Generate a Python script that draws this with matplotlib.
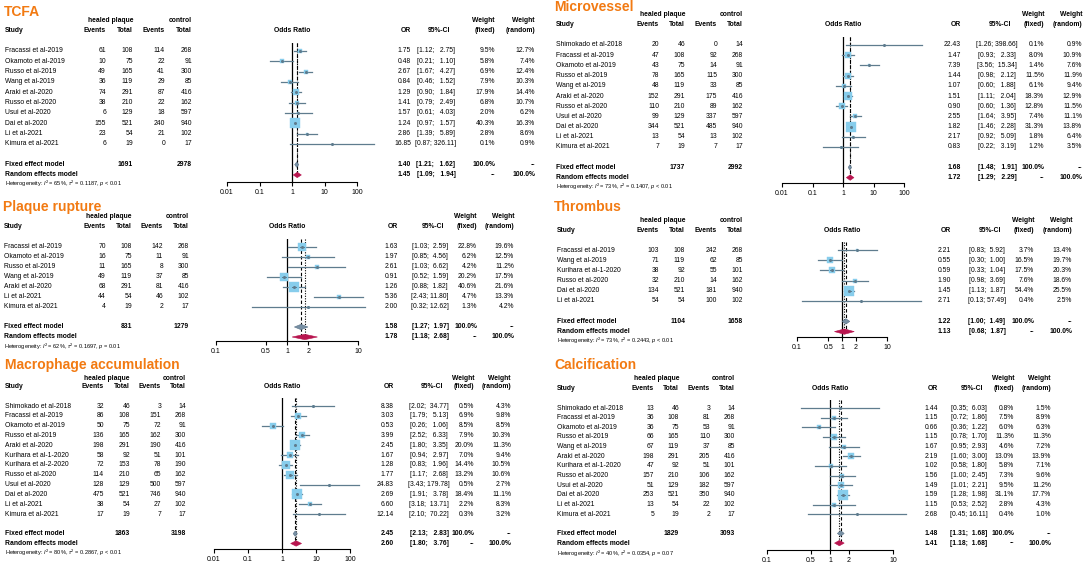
import numpy as np
import matplotlib.pyplot as plt

plt.rcParams['font.family'] = ['Liberation Sans', 'DejaVu Sans']
plt.rcParams['mathtext.fontset'] = 'custom'
plt.rcParams['mathtext.rm'] = 'Liberation Sans'
plt.rcParams['mathtext.it'] = 'Liberation Sans:italic'
plt.rcParams['mathtext.bf'] = 'Liberation Sans:bold'

# ---------------- TCFA
tcfa_study = ['Fracassi et al-2019', 'Okamoto et al-2019', 'Russo et al-2019', 'Wang et al-2019',
              'Araki et al-2020', 'Russo et al-2020', 'Usui et al-2020', 'Dai et al-2020',
              'Li et al-2021', 'Kimura et al-2021']
tcfa_hp_ev = [61, 10, 49, 36, 74, 38, 6, 155, 23, 6]
tcfa_hp_n = [108, 75, 165, 119, 291, 210, 129, 521, 54, 19]
tcfa_c_ev = [114, 22, 41, 29, 87, 22, 18, 240, 21, 0]
tcfa_c_n = [268, 91, 300, 85, 416, 162, 597, 940, 102, 17]
tcfa_or = [1.75, 0.48, 2.67, 0.84, 1.29, 1.41, 1.57, 1.24, 2.86, 16.85]
tcfa_lo = [1.12, 0.21, 1.67, 0.46, 0.90, 0.79, 0.61, 0.97, 1.39, 0.87]
tcfa_hi = [2.75, 1.10, 4.27, 1.52, 1.84, 2.49, 4.03, 1.57, 5.89, 326.11]
tcfa_wf = [9.5, 5.8, 6.9, 7.9, 17.9, 6.8, 2.0, 40.3, 2.8, 0.1]
tcfa_wr = [12.7, 7.4, 12.4, 10.3, 14.4, 10.7, 6.2, 16.3, 8.6, 0.9]
tcfa_fixed = [1.40, 1.21, 1.62]
tcfa_random = [1.45, 1.09, 1.94]
tcfa_totals = [1691, 2978]
tcfa_het = r'Heterogeneity: $I^2$ = 65%, $\tau^2$ = 0.1187, $p$ < 0.01'
tcfa_ticks = [0.01, 0.1, 1, 10, 100]

# ---------------- Plaque rupture
pr_study = ['Fracassi et al-2019', 'Okamoto et al-2019', 'Russo et al-2019', 'Wang et al-2019',
            'Araki et al-2020', 'Li et al-2021', 'Kimura et al-2021']
pr_hp_ev = [70, 16, 11, 49, 68, 44, 4]
pr_hp_n = [108, 75, 165, 119, 291, 54, 19]
pr_c_ev = [142, 11, 8, 37, 81, 46, 2]
pr_c_n = [268, 91, 300, 85, 416, 102, 17]
pr_or = [1.63, 1.97, 2.61, 0.91, 1.26, 5.36, 2.00]
pr_lo = [1.03, 0.85, 1.03, 0.52, 0.88, 2.43, 0.32]
pr_hi = [2.59, 4.56, 6.62, 1.59, 1.82, 11.80, 12.62]
pr_wf = [22.8, 6.2, 4.2, 20.2, 40.6, 4.7, 1.3]
pr_wr = [19.6, 12.5, 11.2, 17.5, 21.6, 13.3, 4.2]
pr_fixed = [1.58, 1.27, 1.97]
pr_random = [1.78, 1.18, 2.68]
pr_totals = [831, 1279]
pr_het = r'Heterogeneity: $I^2$ = 62%, $\tau^2$ = 0.1697, $p$ = 0.01'
pr_ticks = [0.1, 0.5, 1, 2, 10]

# ---------------- Macrophage accumulation
ma_study = ['Shimokado et al-2018', 'Fracassi et al-2019', 'Okamoto et al-2019', 'Russo et al-2019',
            'Araki et al-2020', 'Kurihara et al-1-2020', 'Kurihara et al-2-2020', 'Russo et al-2020',
            'Usui et al-2020', 'Dai et al-2020', 'Li et al-2021', 'Kimura et al-2021']
ma_hp_ev = [32, 86, 50, 136, 198, 58, 72, 114, 128, 475, 38, 17]
ma_hp_n = [46, 108, 75, 165, 291, 92, 153, 210, 129, 521, 54, 19]
ma_c_ev = [3, 151, 72, 162, 190, 51, 78, 65, 500, 746, 27, 7]
ma_c_n = [14, 268, 91, 300, 416, 101, 190, 162, 597, 940, 102, 17]
ma_or = [8.38, 3.03, 0.53, 3.99, 2.45, 1.67, 1.28, 1.77, 24.83, 2.69, 6.60, 12.14]
ma_lo = [2.02, 1.79, 0.26, 2.52, 1.80, 0.94, 0.83, 1.17, 3.43, 1.91, 3.18, 2.10]
ma_hi = [34.77, 5.13, 1.06, 6.33, 3.35, 2.97, 1.96, 2.68, 179.78, 3.78, 13.71, 70.22]
ma_wf = [0.5, 6.9, 8.5, 7.9, 20.0, 7.0, 14.4, 13.2, 0.5, 18.4, 2.2, 0.3]
ma_wr = [4.3, 9.8, 8.5, 10.3, 11.3, 9.4, 10.5, 10.6, 2.7, 11.1, 8.3, 3.2]
ma_fixed = [2.45, 2.13, 2.83]
ma_random = [2.60, 1.80, 3.76]
ma_totals = [1863, 3198]
ma_het = r'Heterogeneity: $I^2$ = 80%, $\tau^2$ = 0.2867, $p$ < 0.01'
ma_ticks = [0.01, 0.1, 1, 10, 100]

# ---------------- Microvessel
mv_study = ['Shimokado et al-2018', 'Fracassi et al-2019', 'Okamoto et al-2019', 'Russo et al-2019',
            'Wang et al-2019', 'Araki et al-2020', 'Russo et al-2020', 'Usui et al-2020',
            'Dai et al-2020', 'Li et al-2021', 'Kimura et al-2021']
mv_hp_ev = [20, 47, 43, 78, 48, 152, 110, 99, 344, 13, 7]
mv_hp_n = [46, 108, 75, 165, 119, 291, 210, 129, 521, 54, 19]
mv_c_ev = [0, 92, 14, 115, 33, 175, 89, 337, 485, 13, 7]
mv_c_n = [14, 268, 91, 300, 85, 416, 162, 597, 940, 102, 17]
mv_or = [22.43, 1.47, 7.39, 1.44, 1.07, 1.51, 0.90, 2.55, 1.82, 2.17, 0.83]
mv_lo = [1.26, 0.93, 3.56, 0.98, 0.60, 1.11, 0.60, 1.64, 1.46, 0.92, 0.22]
mv_hi = [398.66, 2.33, 15.34, 2.12, 1.88, 2.04, 1.36, 3.95, 2.28, 5.09, 3.19]
mv_wf = [0.1, 8.0, 1.4, 11.5, 6.1, 18.3, 12.8, 7.4, 31.3, 1.8, 1.2]
mv_wr = [0.9, 10.9, 7.6, 11.9, 9.4, 12.9, 11.5, 11.1, 13.8, 6.4, 3.5]
mv_fixed = [1.68, 1.48, 1.91]
mv_random = [1.72, 1.29, 2.29]
mv_totals = [1737, 2992]
mv_het = r'Heterogeneity: $I^2$ = 73%, $\tau^2$ = 0.1407, $p$ < 0.01'
mv_ticks = [0.01, 0.1, 1, 10, 100]

# ---------------- Thrombus
th_study = ['Fracassi et al-2019', 'Wang et al-2019', 'Kurihara et al-1-2020', 'Russo et al-2020',
            'Dai et al-2020', 'Li et al-2021']
th_hp_ev = [103, 71, 38, 32, 134, 54]
th_hp_n = [108, 119, 92, 210, 521, 54]
th_c_ev = [242, 62, 55, 14, 181, 100]
th_c_n = [268, 85, 101, 162, 940, 102]
th_or = [2.21, 0.55, 0.59, 1.90, 1.45, 2.71]
th_lo = [0.83, 0.30, 0.33, 0.98, 1.13, 0.13]
th_hi = [5.92, 1.00, 1.04, 3.69, 1.87, 57.49]
th_wf = [3.7, 16.5, 17.5, 7.6, 54.4, 0.4]
th_wr = [13.4, 19.7, 20.3, 18.6, 25.5, 2.5]
th_fixed = [1.22, 1.00, 1.49]
th_random = [1.13, 0.68, 1.87]
th_totals = [1104, 1658]
th_het = r'Heterogeneity: $I^2$ = 73%, $\tau^2$ = 0.2443, $p$ < 0.01'
th_ticks = [0.1, 0.5, 1, 2, 10]

# ---------------- Calcification
ca_study = ['Shimokado et al-2018', 'Fracassi et al-2019', 'Okamoto et al-2019', 'Russo et al-2019',
            'Wang et al-2019', 'Araki et al-2020', 'Kurihara et al-1-2020', 'Russo et al-2020',
            'Usui et al-2020', 'Dai et al-2020', 'Li et al-2021', 'Kimura et al-2021']
ca_hp_ev = [13, 36, 36, 66, 67, 198, 47, 157, 51, 253, 13, 5]
ca_hp_n = [46, 108, 75, 165, 119, 291, 92, 210, 129, 521, 54, 19]
ca_c_ev = [3, 81, 53, 110, 37, 205, 51, 106, 182, 350, 22, 2]
ca_c_n = [14, 268, 91, 300, 85, 416, 101, 162, 597, 940, 102, 17]
ca_or = [1.44, 1.15, 0.66, 1.15, 1.67, 2.19, 1.02, 1.56, 1.49, 1.59, 1.15, 2.68]
ca_lo = [0.35, 0.72, 0.36, 0.78, 0.95, 1.60, 0.58, 1.00, 1.01, 1.28, 0.53, 0.45]
ca_hi = [6.03, 1.86, 1.22, 1.70, 2.93, 3.00, 1.80, 2.45, 2.21, 1.98, 2.52, 16.11]
ca_wf = [0.8, 7.5, 6.0, 11.3, 4.6, 13.0, 5.8, 7.3, 9.5, 31.1, 2.8, 0.4]
ca_wr = [1.5, 8.9, 6.3, 11.3, 7.2, 13.9, 7.1, 9.6, 11.2, 17.7, 4.3, 1.0]
ca_fixed = [1.48, 1.31, 1.68]
ca_random = [1.41, 1.18, 1.68]
ca_totals = [1829, 3093]
ca_het = r'Heterogeneity: $I^2$ = 40%, $\tau^2$ = 0.0354, $p$ = 0.07'
ca_ticks = [0.1, 0.5, 1, 2, 10]

# colours
ORANGE = '#f27a12'
SQUARE = '#87cdec'
CI_COL = '#5f7c8e'
FIX_COL = '#7890a4'
RAND_COL = '#b8154f'

W, H = 1084, 563
fig = plt.figure(figsize=(W / 100, H / 100), dpi=100)
base = fig.add_axes([0, 0, 1, 1])
base.set_xlim(0, W)
base.set_ylim(H, 0)
base.axis('off')

FS = 4.9


def txt(x, y, s, ha='right', bold=False, size=FS, color='black'):
    base.text(x, y, s, ha=ha, va='center', fontsize=size,
              fontweight='bold' if bold else 'normal', color=color)


def fmt_ci(lo, hi):
    ls = ['%.2f' % v for v in lo]
    hs = ['%.2f' % v for v in hi]
    wl = max(len(s) for s in ls)
    wh = max(len(s) for s in hs)
    return ['[' + a.rjust(wl) + '; ' + b.rjust(wh) + ']' for a, b in zip(ls, hs)]


def panel(title, study, e1, n1, e2, n2, orv, lo, hi, wf, wr, fixed, random, totals, het, ticks, L):
    n = len(study)
    rows = [L['r0'] + i * L['dy'] for i in range(n)]
    y_fix = L['r0'] + (n + 1) * L['dy']
    y_ran = y_fix + L['dy']
    c1, c2, c3, c4 = L['cols']
    o_r, ci_r, wf_r, wr_r = L['right']
    ci_c = ci_r - 14

    txt(L['tx'], L['ty'], title, ha='left', bold=True, size=10, color=ORANGE)
    txt(c2, L['hy'], 'healed plaque', bold=True)
    txt(c4, L['hy'], 'control', bold=True)
    txt(L['x0'], L['sy'], 'Study', ha='left', bold=True)
    for c, s in zip(L['cols'], ['Events', 'Total', 'Events', 'Total']):
        txt(c, L['sy'], s, bold=True)
    txt((L['fx'][0] + L['fx'][1]) / 2, L['sy'], 'Odds Ratio', ha='center', bold=True)
    txt(o_r, L['sy'], 'OR', bold=True)
    txt(ci_r, L['sy'], '95%-CI', bold=True)
    txt(wf_r, L['hy'], 'Weight', bold=True)
    txt(wf_r, L['sy'], '(fixed)', bold=True)
    txt(wr_r, L['hy'], 'Weight', bold=True)
    txt(wr_r, L['sy'], '(random)', bold=True)

    cis = fmt_ci(lo + [fixed[1], random[1]], hi + [fixed[2], random[2]])
    for i, y in enumerate(rows):
        txt(L['x0'], y, study[i], ha='left')
        for c, v in zip(L['cols'], [e1[i], n1[i], e2[i], n2[i]]):
            txt(c, y, str(v))
        txt(o_r, y, '%.2f' % orv[i])
        txt(ci_c, y, cis[i], ha='center')
        txt(wf_r, y, '%.1f%%' % wf[i])
        txt(wr_r, y, '%.1f%%' % wr[i])

    txt(L['x0'], y_fix, 'Fixed effect model', ha='left', bold=True)
    txt(c2, y_fix, str(totals[0]), bold=True)
    txt(c4, y_fix, str(totals[1]), bold=True)
    txt(o_r, y_fix, '%.2f' % fixed[0], bold=True)
    txt(ci_c, y_fix, cis[n], ha='center', bold=True)
    txt(wf_r, y_fix, '100.0%', bold=True)
    txt(wr_r, y_fix, '--', bold=True)
    txt(L['x0'], y_ran, 'Random effects model', ha='left', bold=True)
    txt(o_r, y_ran, '%.2f' % random[0], bold=True)
    txt(ci_c, y_ran, cis[n + 1], ha='center', bold=True)
    txt(wf_r, y_ran, '--', bold=True)
    txt(wr_r, y_ran, '100.0%', bold=True)
    txt(L['x0'], L['hety'], het, ha='left', size=4.1)

    # forest part
    top = L['r0'] - 8
    bot = L['ay']
    x0, x1 = L['fx']
    ax = fig.add_axes([x0 / W, 1 - bot / H, (x1 - x0) / W, (bot - top) / H])
    ax.set_xscale('log')
    ax.set_xlim(ticks[0], ticks[-1])
    ax.set_ylim(bot, top)
    ax.patch.set_alpha(0)
    for s in ['top', 'left', 'right']:
        ax.spines[s].set_visible(False)
    ax.spines['bottom'].set_linewidth(0.8)
    ax.set_yticks([])
    ax.set_xticks(ticks)
    ax.set_xticklabels(['%g' % t for t in ticks])
    ax.minorticks_off()
    ax.tick_params(axis='x', length=3, width=0.8, labelsize=5, pad=2)

    ax.axvline(1, color='black', lw=0.9, zorder=1)
    ax.plot([fixed[0]] * 2, [top, y_ran], color='black', lw=0.8, ls=(0, (3, 2)), zorder=1)
    ax.plot([random[0]] * 2, [top, y_ran], color='black', lw=0.8, ls=(0, (1, 1.3)), zorder=1)

    wmax = max(wf)
    for i, y in enumerate(rows):
        ms = max(10 * np.sqrt(wf[i] / wmax) * 0.72, 0.8)
        ax.plot([lo[i], hi[i]], [y, y], color=CI_COL, lw=0.9, clip_on=False, zorder=2)
        ax.plot(orv[i], y, marker='s', ms=ms, mfc=SQUARE, mec=SQUARE, mew=0.3, zorder=3)
        ax.plot([max(lo[i], orv[i] * 0.93), min(hi[i], orv[i] / 0.93)], [y, y],
                color=CI_COL, lw=0.7, zorder=4)
        ax.plot(orv[i], y, marker='o', ms=1.2, color=CI_COL, zorder=4)

    h = 2.7
    ax.fill([fixed[1], fixed[0], fixed[2], fixed[0]], [y_fix, y_fix - h, y_fix, y_fix + h],
            facecolor=FIX_COL, edgecolor='#5a7388', lw=0.4, zorder=3)
    ax.fill([random[1], random[0], random[2], random[0]], [y_ran, y_ran - h, y_ran, y_ran + h],
            facecolor=RAND_COL, edgecolor=RAND_COL, lw=0.4, zorder=3)


L_tcfa = dict(x0=5, tx=4, ty=12, hy=21, sy=31, r0=51, dy=10.33, hety=184, cols=(106, 133, 165, 192),
              fx=(227, 357), ay=182, right=(411, 450, 495, 535))
L_pr = dict(x0=4, tx=3, ty=207, hy=217, sy=227, r0=247, dy=10.0, hety=347, cols=(106, 132, 163, 189),
            fx=(216, 358), ay=341, right=(398, 444, 477, 514))
L_ma = dict(x0=5, tx=5, ty=365, hy=378, sy=387, r0=406, dy=9.82, hety=553, cols=(104, 130, 161, 186),
            fx=(214, 350), ay=549, right=(394, 443, 474, 511))
L_mv = dict(x0=556, tx=554, ty=7, hy=15, sy=25, r0=45, dy=10.2, hety=187, cols=(659, 685, 717, 743),
            fx=(782, 904), ay=183, right=(961, 1011, 1044, 1082))
L_th = dict(x0=557, tx=554, ty=207, hy=220, sy=230, r0=250, dy=10.2, hety=341, cols=(659, 685, 717, 743),
            fx=(797, 887), ay=337, right=(951, 1001, 1034, 1072))
L_ca = dict(x0=557, tx=554, ty=365, hy=379, sy=388, r0=408, dy=9.65, hety=554, cols=(654, 679, 710, 735),
            fx=(767, 893), ay=550, right=(938, 983, 1014, 1051))

panel('TCFA', tcfa_study, tcfa_hp_ev, tcfa_hp_n, tcfa_c_ev, tcfa_c_n, tcfa_or, tcfa_lo, tcfa_hi,
      tcfa_wf, tcfa_wr, tcfa_fixed, tcfa_random, tcfa_totals, tcfa_het, tcfa_ticks, L_tcfa)
panel('Plaque rupture', pr_study, pr_hp_ev, pr_hp_n, pr_c_ev, pr_c_n, pr_or, pr_lo, pr_hi,
      pr_wf, pr_wr, pr_fixed, pr_random, pr_totals, pr_het, pr_ticks, L_pr)
panel('Macrophage accumulation', ma_study, ma_hp_ev, ma_hp_n, ma_c_ev, ma_c_n, ma_or, ma_lo, ma_hi,
      ma_wf, ma_wr, ma_fixed, ma_random, ma_totals, ma_het, ma_ticks, L_ma)
panel('Microvessel', mv_study, mv_hp_ev, mv_hp_n, mv_c_ev, mv_c_n, mv_or, mv_lo, mv_hi,
      mv_wf, mv_wr, mv_fixed, mv_random, mv_totals, mv_het, mv_ticks, L_mv)
panel('Thrombus', th_study, th_hp_ev, th_hp_n, th_c_ev, th_c_n, th_or, th_lo, th_hi,
      th_wf, th_wr, th_fixed, th_random, th_totals, th_het, th_ticks, L_th)
panel('Calcification', ca_study, ca_hp_ev, ca_hp_n, ca_c_ev, ca_c_n, ca_or, ca_lo, ca_hi,
      ca_wf, ca_wr, ca_fixed, ca_random, ca_totals, ca_het, ca_ticks, L_ca)

fig.savefig('out.png', dpi=100)
